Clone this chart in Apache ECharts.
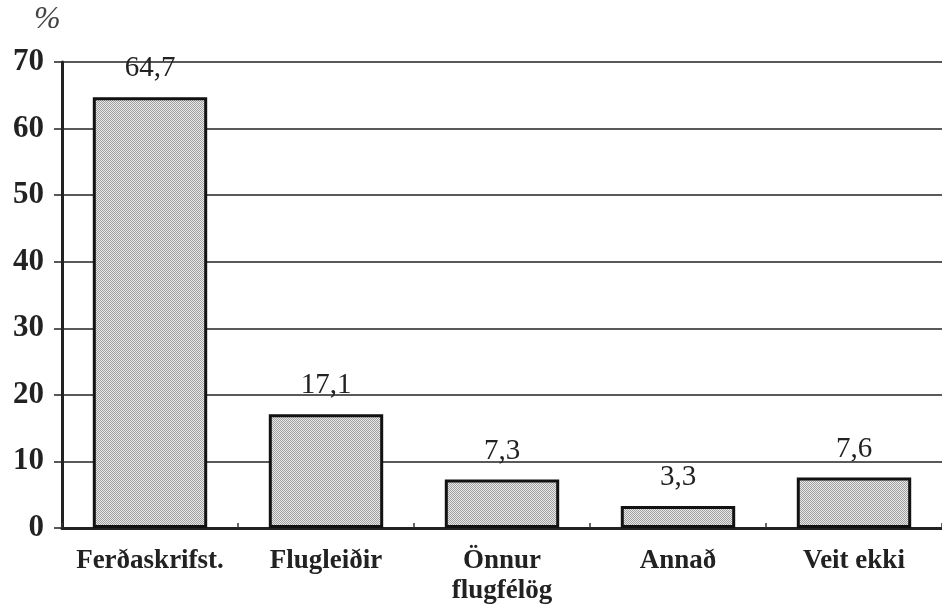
<!DOCTYPE html>
<html>
<head>
<meta charset="utf-8">
<script src="https://cdn.jsdelivr.net/npm/echarts@6/dist/echarts.min.js"></script>
<style>html,body{margin:0;padding:0;background:#fff}#c{width:942px;height:606px}</style>
</head>
<body>
<div id="c"></div>
<script>
const categories = ['Ferðaskrifst.', 'Flugleiðir', 'Önnur\nflugfélög', 'Annað', 'Veit ekki'];
const values = [64.7, 17.1, 7.3, 3.3, 7.6];
const yTicks = [0, 10, 20, 30, 40, 50, 60, 70];

// dotted gray fill pattern
const pc = document.createElement('canvas');
pc.width = 2; pc.height = 2;
const pctx = pc.getContext('2d');
pctx.fillStyle = '#e8e8e8'; pctx.fillRect(0, 0, 2, 2);
pctx.fillStyle = '#a0a0a0'; pctx.fillRect(0, 0, 1, 1); pctx.fillRect(1, 1, 1, 1);

const serif = '"Liberation Serif", "DejaVu Serif", serif';
const chart = echarts.init(document.getElementById('c'), null, {renderer: 'canvas'});
chart.setOption({
  animation: false,
  backgroundColor: '#fff',
  graphic: [{
    type: 'text', left: 34, top: 4,
    style: {text: '%', fontSize: 32, fontStyle: 'italic', fontFamily: serif, fill: '#444'}
  }],
  grid: {left: 62, top: 62, bottom: 76, right: -14, containLabel: false},
  xAxis: {
    type: 'category',
    data: categories,
    axisLine: {lineStyle: {color: '#222', width: 3}},
    axisTick: {show: true, inside: true, length: 5, lineStyle: {color: '#333', width: 1.5}},
    axisLabel: {
      color: '#222', fontFamily: serif, fontWeight: 'bold', fontSize: 27,
      lineHeight: 30, margin: 18, interval: 0
    },
    splitLine: {show: false}
  },
  yAxis: {
    type: 'value', min: 0, max: 70, interval: 10,
    axisLine: {show: true, lineStyle: {color: '#222', width: 3}},
    axisTick: {show: true, length: 8, lineStyle: {color: '#222', width: 1.5}},
    axisLabel: {
      color: '#222', fontFamily: serif, fontWeight: 'bold', fontSize: 31, margin: 18,
      padding: [0, 0, 8, 0],
      formatter: function (v) { return yTicks.indexOf(v) >= 0 ? String(v) : ''; }
    },
    splitLine: {show: true, lineStyle: {color: '#222', width: 1.5}}
  },
  series: [{
    type: 'bar',
    data: values,
    barWidth: '65%',
    itemStyle: {color: {image: pc, repeat: 'repeat'}, borderColor: '#111', borderWidth: 3},
    label: {
      show: true, position: 'top', distance: 14,
      color: '#222', fontFamily: serif, fontSize: 29,
      formatter: function (p) { return String(p.value).replace('.', ','); }
    }
  }]
});
</script>
</body>
</html>
